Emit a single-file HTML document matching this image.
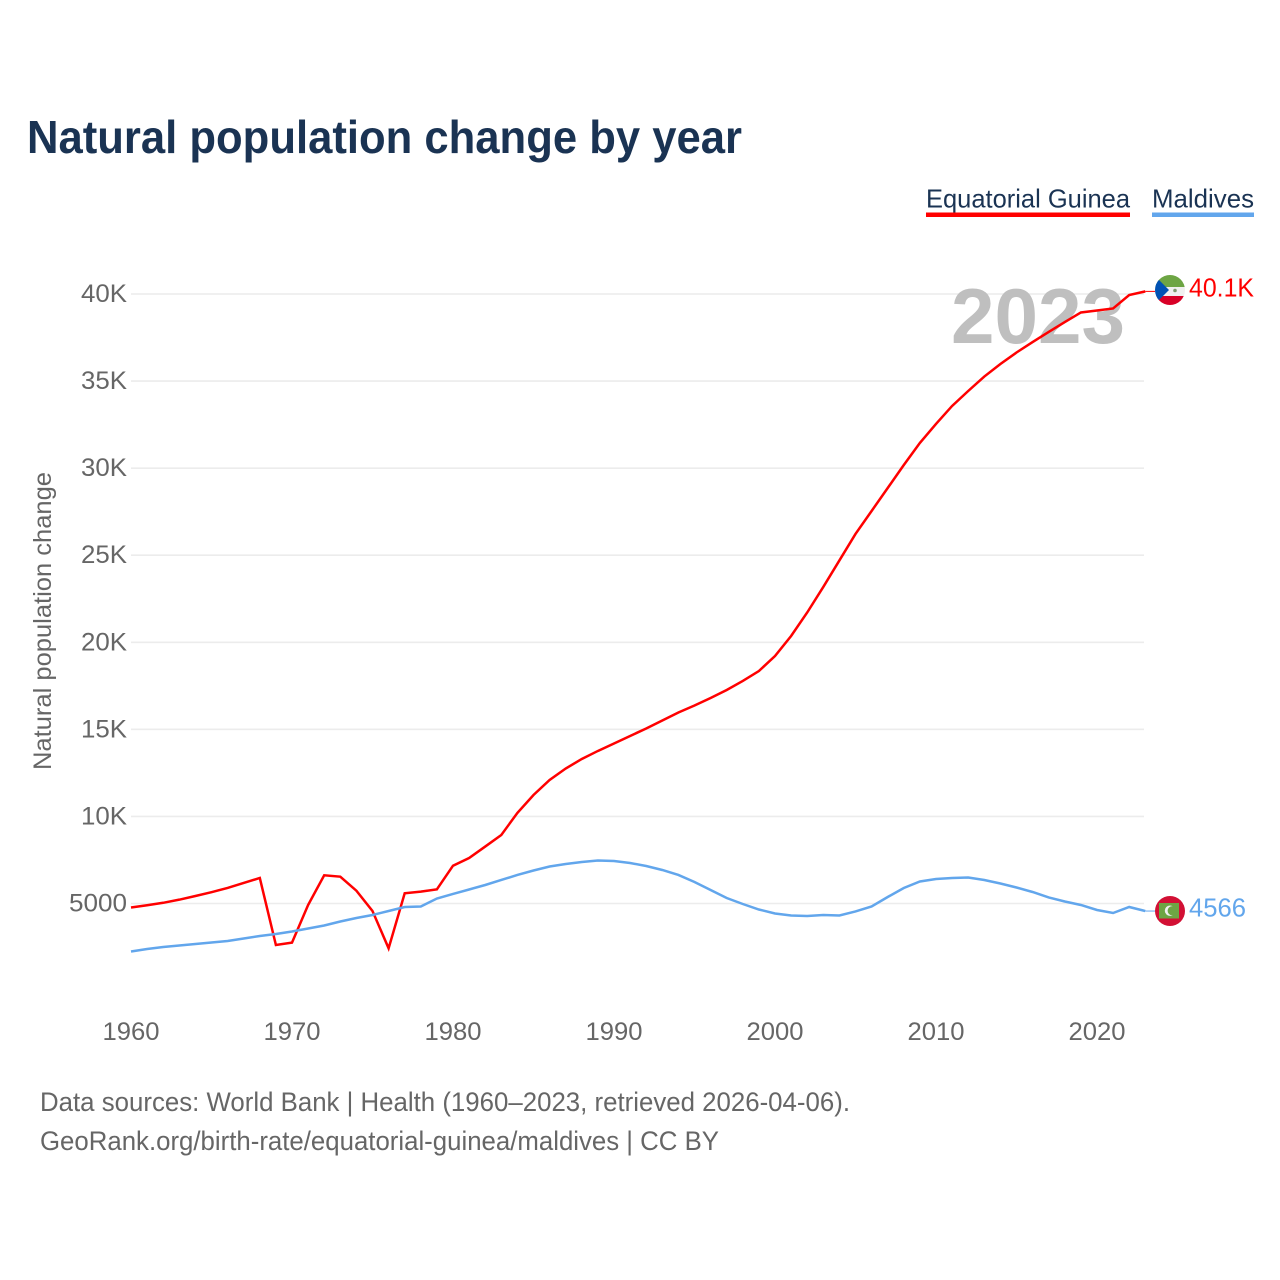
<!DOCTYPE html>
<html lang="en">
<head>
<meta charset="utf-8">
<title>Natural population change by year</title>
<style>
html,body{margin:0;padding:0;background:#fff;width:1280px;height:1280px;overflow:hidden}
svg{display:block}
text{font-family:"Liberation Sans",sans-serif}
</style>
</head>
<body>
<svg id="chart" xmlns="http://www.w3.org/2000/svg" width="1280" height="1280" viewBox="0 0 1280 1280">
  <defs>
    <clipPath id="flag-clip-gq"><circle cx="1170" cy="290" r="15"/></clipPath>
    <clipPath id="flag-clip-mv"><circle cx="1170" cy="911" r="15"/></clipPath>
  </defs>
  <text x="27" y="153" font-size="46" font-weight="700" fill="#1a3353" textLength="715" lengthAdjust="spacingAndGlyphs">Natural population change by year</text>

  <g>
    <g>
      <text x="926" y="207.5" font-size="26" fill="#1a3353" textLength="204" lengthAdjust="spacingAndGlyphs">Equatorial Guinea</text>
      <rect x="926" y="212.5" width="204" height="4.5" fill="#ff0000"/>
    </g>
    <g>
      <text x="1152" y="207.5" font-size="26" fill="#1a3353" textLength="102" lengthAdjust="spacingAndGlyphs">Maldives</text>
      <rect x="1152" y="212.5" width="102" height="4.5" fill="#62a6ec"/>
    </g>
  </g>

  <text transform="translate(51,621) rotate(-90)" text-anchor="middle" font-size="25" fill="#666" textLength="298" lengthAdjust="spacingAndGlyphs">Natural population change</text>

  <g id="grid"></g>
  <g id="y-ticks"></g>
  <g id="x-ticks"></g>

  <text x="951" y="343" font-size="78" font-weight="700" fill="#bfbfbf" textLength="174" lengthAdjust="spacingAndGlyphs">2023</text>

  <g id="series"></g>

  <g clip-path="url(#flag-clip-gq)">
    <rect x="1150" y="270" width="40" height="17" fill="#6da544"/>
    <rect x="1150" y="287" width="40" height="9" fill="#f0f0f0"/>
    <rect x="1150" y="296" width="40" height="15" fill="#d80027"/>
    <polygon points="1150,271 1169,290 1150,309" fill="#0052b4"/>
    <circle cx="1175" cy="290.5" r="1.8" fill="#7f9a70"/>
  </g>
  <g clip-path="url(#flag-clip-mv)">
    <rect x="1150" y="890" width="40" height="42" fill="#d21034"/>
    <rect x="1159" y="903" width="20" height="15.5" fill="#6da544"/>
    <circle cx="1170" cy="910.7" r="5.2" fill="#f0f0f0"/>
    <circle cx="1172.2" cy="910.7" r="4.6" fill="#6da544"/>
  </g>

  <text id="label-red" x="1189" y="296.5" font-size="26" fill="#ff0000" textLength="65" lengthAdjust="spacingAndGlyphs">40.1K</text>
  <text id="label-blue" x="1189" y="916.5" font-size="26" fill="#62a6ec" textLength="57" lengthAdjust="spacingAndGlyphs">4566</text>

  <g>
    <text x="40" y="1111" font-size="26.5" fill="#666" textLength="810" lengthAdjust="spacingAndGlyphs">Data sources: World Bank | Health (1960–2023, retrieved 2026-04-06).</text>
    <text x="40" y="1150" font-size="26.5" fill="#666" textLength="679" lengthAdjust="spacingAndGlyphs">GeoRank.org/birth-rate/equatorial-guinea/maldives | CC BY</text>
  </g>
</svg>

<script>
const startYear = 1960;
const xTickYears = [1960, 1970, 1980, 1990, 2000, 2010, 2020];
const yTickValues = [40000, 35000, 30000, 25000, 20000, 15000, 10000, 5000];
const yTickLabels = ["40K", "35K", "30K", "25K", "20K", "15K", "10K", "5000"];
const equatorialGuinea = [4770, 4900, 5040, 5220, 5430, 5650, 5891, 6178, 6465, 2617, 2750, 4914, 6620, 6540, 5735, 4570, 2427, 5585, 5680, 5815, 7170, 7610, 8270, 8935, 10200, 11230, 12090, 12750, 13300, 13760, 14190, 14620, 15050, 15510, 15970, 16370, 16800, 17260, 17780, 18350, 19210, 20360, 21710, 23180, 24700, 26220, 27540, 28860, 30180, 31450, 32540, 33570, 34430, 35260, 35980, 36640, 37240, 37820, 38390, 38940, 39050, 39170, 39940, 40150];
const maldives = [2243, 2387, 2502, 2588, 2674, 2760, 2846, 2990, 3134, 3248, 3392, 3564, 3737, 3966, 4167, 4340, 4569, 4799, 4828, 5287, 5546, 5804, 6062, 6350, 6637, 6895, 7125, 7268, 7383, 7469, 7441, 7326, 7154, 6924, 6637, 6235, 5775, 5316, 4971, 4655, 4426, 4311, 4282, 4340, 4311, 4541, 4828, 5373, 5890, 6263, 6407, 6464, 6493, 6350, 6149, 5919, 5660, 5345, 5115, 4914, 4627, 4454, 4799, 4566];

const SVG_NS = 'http://www.w3.org/2000/svg';
function xScale(year) { return 131 + (year - 1960) * 16.1; }
function yScale(value) { return 294 + (40000 - value) * 0.017414; }

const gridGroup = document.getElementById('grid');
const yTickGroup = document.getElementById('y-ticks');
const xTickGroup = document.getElementById('x-ticks');
const seriesGroup = document.getElementById('series');

yTickValues.forEach(function (value, i) {
  const line = document.createElementNS(SVG_NS, 'line');
  
  
  line.setAttribute('x1', xScale(1960));
  line.setAttribute('x2', 1144);
  line.setAttribute('y1', yScale(value));
  line.setAttribute('y2', yScale(value));
  line.setAttribute('stroke', '#ececec');
  line.setAttribute('stroke-width', '1.6');
  gridGroup.appendChild(line);

  const label = document.createElementNS(SVG_NS, 'text');
  
  
  label.setAttribute('x', 127);
  label.setAttribute('y', yScale(value) + 8);
  label.setAttribute('text-anchor', 'end');
  label.setAttribute('font-size', '25');
  label.setAttribute('fill', '#666');
  label.setAttribute('textLength', yTickLabels[i].length === 4 ? '58' : '46');
  label.setAttribute('lengthAdjust', 'spacingAndGlyphs');
  label.textContent = yTickLabels[i];
  yTickGroup.appendChild(label);
});

xTickYears.forEach(function (year) {
  const label = document.createElementNS(SVG_NS, 'text');
  
  
  label.setAttribute('x', xScale(year));
  label.setAttribute('y', 1040);
  label.setAttribute('text-anchor', 'middle');
  label.setAttribute('font-size', '25');
  label.setAttribute('fill', '#666');
  label.setAttribute('textLength', '57');
  label.setAttribute('lengthAdjust', 'spacingAndGlyphs');
  label.textContent = String(year);
  xTickGroup.appendChild(label);
});

function pointsFor(values) {
  return values.map(function (v, i) {
    return xScale(startYear + i).toFixed(2) + ',' + yScale(v).toFixed(2);
  }).join(' ');
}

function drawConnector(values, color) {
  const y = yScale(values[values.length - 1]);
  const connector = document.createElementNS(SVG_NS, 'line');
  
  
  connector.setAttribute('x1', xScale(startYear + values.length - 1));
  connector.setAttribute('x2', 1155);
  connector.setAttribute('y1', y);
  connector.setAttribute('y2', y);
  connector.setAttribute('stroke', color);
  connector.setAttribute('stroke-width', '1');
  seriesGroup.appendChild(connector);
}

const redLine = document.createElementNS(SVG_NS, 'polyline');


redLine.setAttribute('points', pointsFor(equatorialGuinea));
redLine.setAttribute('fill', 'none');
redLine.setAttribute('stroke', '#ff0000');
redLine.setAttribute('stroke-width', '2.5');
seriesGroup.appendChild(redLine);
drawConnector(equatorialGuinea, '#ff0000');

const blueLine = document.createElementNS(SVG_NS, 'polyline');


blueLine.setAttribute('points', pointsFor(maldives));
blueLine.setAttribute('fill', 'none');
blueLine.setAttribute('stroke', '#62a6ec');
blueLine.setAttribute('stroke-width', '2.5');
seriesGroup.appendChild(blueLine);
drawConnector(maldives, '#62a6ec');
</script>
</body>
</html>
